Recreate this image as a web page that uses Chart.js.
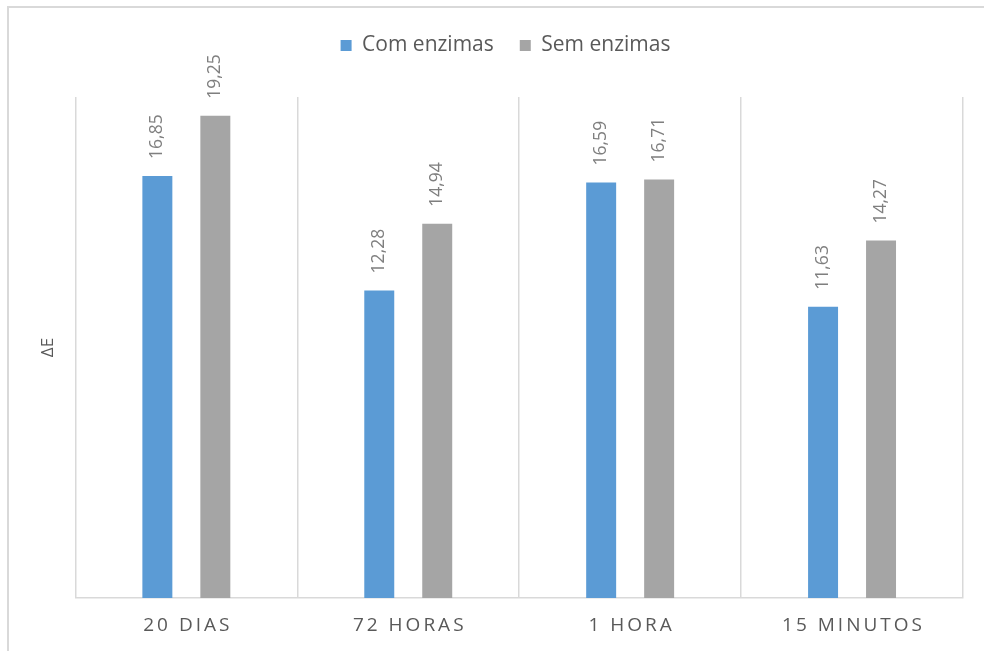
<!DOCTYPE html>
<html>
<head>
<meta charset="utf-8">
<script src="https://cdn.jsdelivr.net/npm/chart.js@4/dist/chart.umd.min.js"></script>
<style>
  html, body { margin: 0; padding: 0; background: #fff; overflow: hidden; }
  #wrap { position: relative; width: 984px; height: 651px; }
  #frame { position: absolute; left: 7px; top: 6px; width: 1000px; height: 700px; border: 2px solid #d9d9d9; box-sizing: border-box; pointer-events: none; }
  canvas { position: absolute; left: 0; top: 0; }
</style>
</head>
<body>
<div id="wrap">
  <canvas id="c" width="984" height="651"></canvas>
  <div id="frame"></div>
</div>
<script>
const categories = ['20 DIAS', '72 HORAS', '1 HORA', '15 MINUTOS'];
const comEnzimas = [16.85, 12.28, 16.59, 11.63];
const semEnzimas = [19.25, 14.94, 16.71, 14.27];
const seriesNames = ['Com enzimas', 'Sem enzimas'];
const yTitle = 'ΔE';

const FONT = '"Open Sans", "Noto Sans", sans-serif';

const legendSpace = {
  id: 'legendSpace',
  beforeLayout(chart) {
    const lg = chart.legend;
    if (lg && !lg._patched) {
      const orig = lg.fit.bind(lg);
      lg.fit = function () { orig(); this.height += 31; };
      lg._patched = true;
    }
  },
  afterLayout(chart) {
    const lg = chart.legend;
    if (lg) { lg.left += 5; lg.right += 5; }
  }
};

const valueLabels = {
  id: 'valueLabels',
  afterDatasetsDraw(chart) {
    const ctx = chart.ctx;
    chart.data.datasets.forEach((ds, di) => {
      const meta = chart.getDatasetMeta(di);
      meta.data.forEach((bar, i) => {
        const txt = ds.data[i].toFixed(2).replace('.', ',');
        ctx.save();
        ctx.font = '17.5px ' + FONT;
        ctx.fillStyle = '#7f7f7f';
        ctx.translate(bar.x, bar.y - 17);
        ctx.rotate(-Math.PI / 2);
        ctx.textAlign = 'left';
        ctx.textBaseline = 'middle';
        ctx.fillText(txt, 0, 0);
        ctx.restore();
      });
    });
  }
};

const spacedTicks = {
  id: 'spacedTicks',
  afterDraw(chart) {
    const ctx = chart.ctx;
    const xs = chart.scales.x;
    const spacing = 3;
    ctx.save();
    ctx.font = '19px ' + FONT;
    ctx.fillStyle = '#595959';
    ctx.letterSpacing = spacing + 'px';
    ctx.textAlign = 'left';
    ctx.textBaseline = 'middle';
    chart.data.labels.forEach((lab, i) => {
      const x = xs.getPixelForValue(i);
      const w = ctx.measureText(lab).width - spacing;
      ctx.fillText(lab, x - w / 2, 626);
    });
    ctx.restore();
  }
};

new Chart(document.getElementById('c'), {
  type: 'bar',
  data: {
    labels: categories,
    datasets: [
      { label: seriesNames[0], data: comEnzimas, backgroundColor: '#5b9bd5', borderWidth: 0 },
      { label: seriesNames[1], data: semEnzimas, backgroundColor: '#a5a5a5', borderWidth: 0 }
    ]
  },
  options: {
    responsive: false,
    animation: false,
    devicePixelRatio: 1,
    categoryPercentage: 0.5225,
    barPercentage: 0.517,
    layout: { padding: { left: 38, right: 21, top: 9, bottom: 53 } },
    plugins: {
      legend: {
        position: 'top',
        labels: {
          boxWidth: 11,
          boxHeight: 11,
          padding: 26,
          color: '#595959',
          font: { family: FONT, size: 21 }
        }
      },
      tooltip: { enabled: false }
    },
    scales: {
      x: {
        grid: { color: '#d9d9d9', lineWidth: 1.5, drawTicks: false, offset: true },
        border: { color: '#d9d9d9', width: 1.5 },
        ticks: { display: false }
      },
      y: {
        min: 0,
        max: 20,
        grid: { display: false, drawTicks: false },
        border: { display: false },
        ticks: { display: false },
        title: {
          display: true,
          text: yTitle,
          color: '#595959',
          font: { family: FONT, size: 17 },
          padding: { top: 0, bottom: 17 }
        }
      }
    }
  },
  plugins: [legendSpace, valueLabels, spacedTicks]
});
</script>
</body>
</html>
